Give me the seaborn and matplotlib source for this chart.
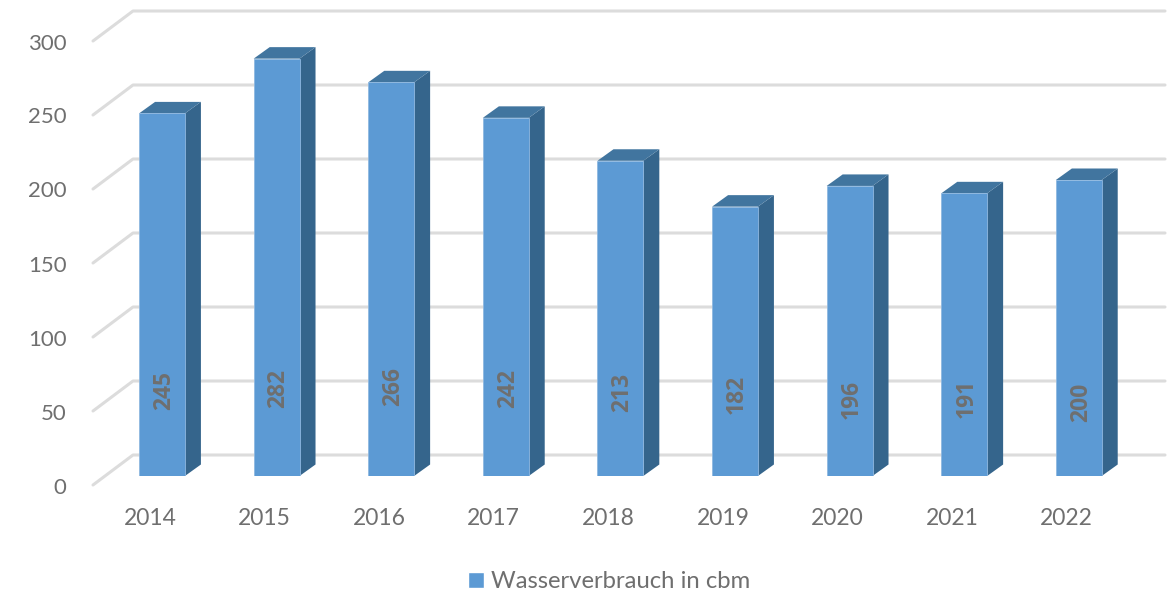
import matplotlib
matplotlib.use('Agg')
import matplotlib.pyplot as plt
import matplotlib.transforms as mtransforms
from matplotlib.patches import Patch, Polygon
import pandas as pd
import seaborn as sns

years = ['2014', '2015', '2016', '2017', '2018', '2019', '2020', '2021', '2022']
verbrauch = [245, 282, 266, 242, 213, 182, 196, 191, 200]
y_ticks = [0, 50, 100, 150, 200, 250, 300]
series_name = 'Wasserverbrauch in cbm'

# height of each bar label above the bar foot, px (they are not level in the original)
label_lift = [85, 88, 90, 87, 84, 82, 77, 78, 74]

FRONT = '#5c9ad4'
SIDE = '#35658c'
TOP = '#41759f'
GRID = '#dcdcdc'
TEXT = '#6f6f6f'

sns.set_theme(style='white')
plt.rcParams['font.family'] = ['Lato', 'DejaVu Sans']

W, H = 1173, 595
fig = plt.figure(figsize=(W / 100, H / 100), dpi=100)
# axes spans the plane of the bar fronts: x 93-1165 px, y=0 at 476 px, 1.48 px per unit
ax = fig.add_axes([93 / W, (H - 476) / H, (1165 - 93) / W, (476 - 32) / H])

df = pd.DataFrame({'year': years, 'verbrauch': verbrauch})
sns.barplot(data=df, x='year', y='verbrauch', color=FRONT, saturation=1, width=0.4,
            ax=ax, zorder=5, edgecolor='#8fb8e0', linewidth=0.6)

px_x = 114.6  # px per category
px_y = 1.48   # px per unit
ax.set_xlim((93 - 162) / px_x, (1165 - 162) / px_x)
ax.set_ylim(0, (476 - 32) / px_y)

# depth of the fake 3d look
dx = 16 / px_x
dy = 11.5 / px_y

# back wall grid, shifted up from the bar plane
wall_up = 21 / px_y
wall_left = (133 - 162) / px_x
floor_left = (93 - 162) / px_x
floor_drop = -9 / px_y
right = (1165 - 162) / px_x
for t in y_ticks:
    ax.plot([floor_left, wall_left, right], [t + floor_drop, t + wall_up, t + wall_up],
            color=GRID, lw=2.2, zorder=1, clip_on=False, solid_joinstyle='round')

# side and top faces
half = 0.2
for i, v in enumerate(verbrauch):
    side = [(i + half, 0), (i + half + dx, dy), (i + half + dx, v + dy), (i + half, v)]
    top = [(i - half, v), (i - half + dx, v + dy), (i + half + dx, v + dy), (i + half, v)]
    ax.add_patch(Polygon(side, closed=True, fc=SIDE, ec='none', zorder=4, clip_on=False))
    ax.add_patch(Polygon(top, closed=True, fc=TOP, ec='none', zorder=4, clip_on=False))
    ax.annotate(str(v), (i, 0), xytext=(2, label_lift[i]), textcoords='offset pixels',
                rotation=90, ha='center', va='center', fontsize=16.5, fontweight='bold',
                family=['Open Sans', 'DejaVu Sans'], color=TEXT, zorder=6)

ax.set_yticks(y_ticks)
ax.set_xlabel('')
ax.set_ylabel('')
ax.tick_params(axis='both', length=0, labelcolor=TEXT)
ax.tick_params(axis='x', pad=23, labelsize=16.5)
ax.tick_params(axis='y', pad=19, labelsize=16)
# tick labels sit on the front edge of the floor, not on the bar plane
shift_y = mtransforms.ScaledTranslation(0, -9.5 / 100, fig.dpi_scale_trans)
for lab in ax.get_yticklabels():
    lab.set_transform(lab.get_transform() + shift_y)
shift_x = mtransforms.ScaledTranslation(-12 / 100, 0, fig.dpi_scale_trans)
for lab in ax.get_xticklabels():
    lab.set_transform(lab.get_transform() + shift_x)
sns.despine(ax=ax, left=True, bottom=True)
ax.patch.set_alpha(0)

fig.legend(handles=[Patch(facecolor=FRONT, label=series_name)], loc='center',
           bbox_to_anchor=(609 / W, (H - 582) / H), frameon=False, fontsize=17.2,
           labelcolor=TEXT, handlelength=0.67, handleheight=0.67, handletextpad=0.3)

fig.savefig('out.png', dpi=100)
